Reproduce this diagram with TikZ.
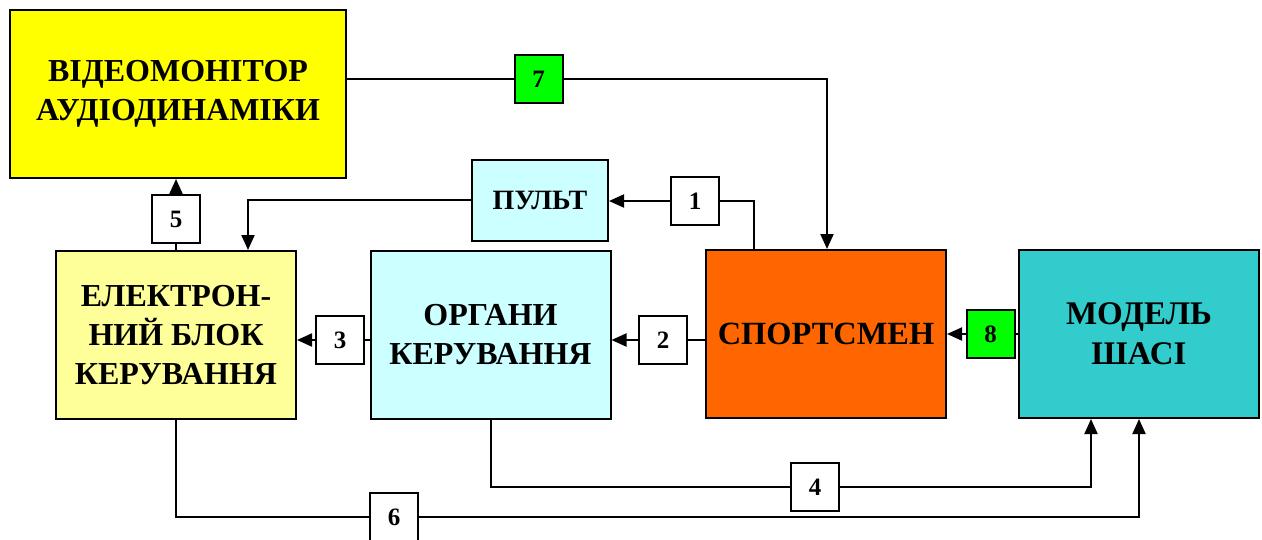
\documentclass[tikz,border=0pt]{standalone}
\usepackage{fontspec}
\setmainfont{Liberation Serif}
\usetikzlibrary{arrows.meta}
\definecolor{Monitor}{HTML}{FFFF00}
\definecolor{Block}{HTML}{FFFF99}
\definecolor{Pale}{HTML}{CCFFFF}
\definecolor{Athlete}{HTML}{FF6600}
\definecolor{Chassis}{HTML}{33CCCC}
\definecolor{Signal}{HTML}{00FF00}
\newcommand{\bigfont}{\fontsize{16}{19.5}\selectfont\bfseries}
\newcommand{\numfont}{\fontsize{12.5}{15}\selectfont\bfseries}

\begin{document}
\begin{tikzpicture}[x=0.5pt,y=-0.5pt,line width=1pt,
    unit/.style={draw,align=center,font=\bigfont,minimum width=120pt,minimum height=84pt},
    tag/.style={draw,fill=white,font=\numfont,minimum size=24pt,inner sep=0pt},
    arr/.style={-{Triangle[length=7.5pt,width=6.5pt]}}]
  \useasboundingbox (0,0) rectangle (1262,540);
  \clip (0,0) rectangle (1262,540);
  \node[unit,fill=Monitor,minimum width=168pt] (vid) at (178,94) {ВІДЕОМОНІТОР\\АУДІОДИНАМІКИ};
  \node[unit,fill=Pale,minimum width=68pt,minimum height=40.5pt,font=\fontsize{14}{16}\selectfont\bfseries] (pult) at (540,200) {ПУЛЬТ};
  \node[unit,fill=Block] (ebk) at (176,335) {ЕЛЕКТРОН-\\НИЙ БЛОК\\КЕРУВАННЯ};
  \node[unit,fill=Pale] (org) at (490.5,335) {ОРГАНИ\\КЕРУВАННЯ};
  \node[unit,fill=Athlete,font=\fontsize{16.2}{20}\selectfont\bfseries] (sport) at (826,334) {СПОРТСМЕН};
  \node[unit,fill=Chassis,font=\fontsize{16.5}{20}\selectfont\bfseries] (model) at (1139,334) {МОДЕЛЬ\\ШАСІ};
  \node[tag] (b1) at (695,201) {1};
  \node[tag] (b2) at (663,340) {2};
  \node[tag] (b3) at (340,340) {3};
  \node[tag] (b4) at (815,487) {4};
  \node[tag] (b5) at (176,219) {5};
  \node[tag] (b6) at (394,517) {6};
  \node[tag,fill=Signal] (b7) at (538.5,79) {7};
  \node[tag,fill=Signal] (b8) at (990.5,334) {8};
  \coordinate (t1) at (754,201);
  \coordinate (t7) at (827,79);
  \draw (vid.east |- b7) -- (b7);
  \draw[arr] (b7) -- (t7) -- (t7 |- sport.north);
  \draw (t1 |- sport.north) -- (t1) -- (b1);
  \draw[arr] (b1) -- (pult.east |- b1);
  \draw[arr] (pult.west) -| ([xshift=36pt]ebk.north);
  \draw (ebk.north) -- (b5);
  \draw[arr] (b5) -- (vid.south -| b5);
  \draw (sport.west |- b2) -- (b2);
  \draw[arr] (b2) -- (org.east |- b2);
  \draw (org.west |- b3) -- (b3);
  \draw[arr] (b3) -- (ebk.east |- b3);
  \draw (model.west |- b8) -- (b8);
  \draw[arr] (b8) -- (sport.east |- b8);
  \draw (org.south) |- (b4);
  \draw[arr] (b4) -| ([xshift=-24pt]model.south);
  \draw (ebk.south) |- (b6);
  \draw[arr] (b6) -| (model.south);
\end{tikzpicture}
\end{document}
